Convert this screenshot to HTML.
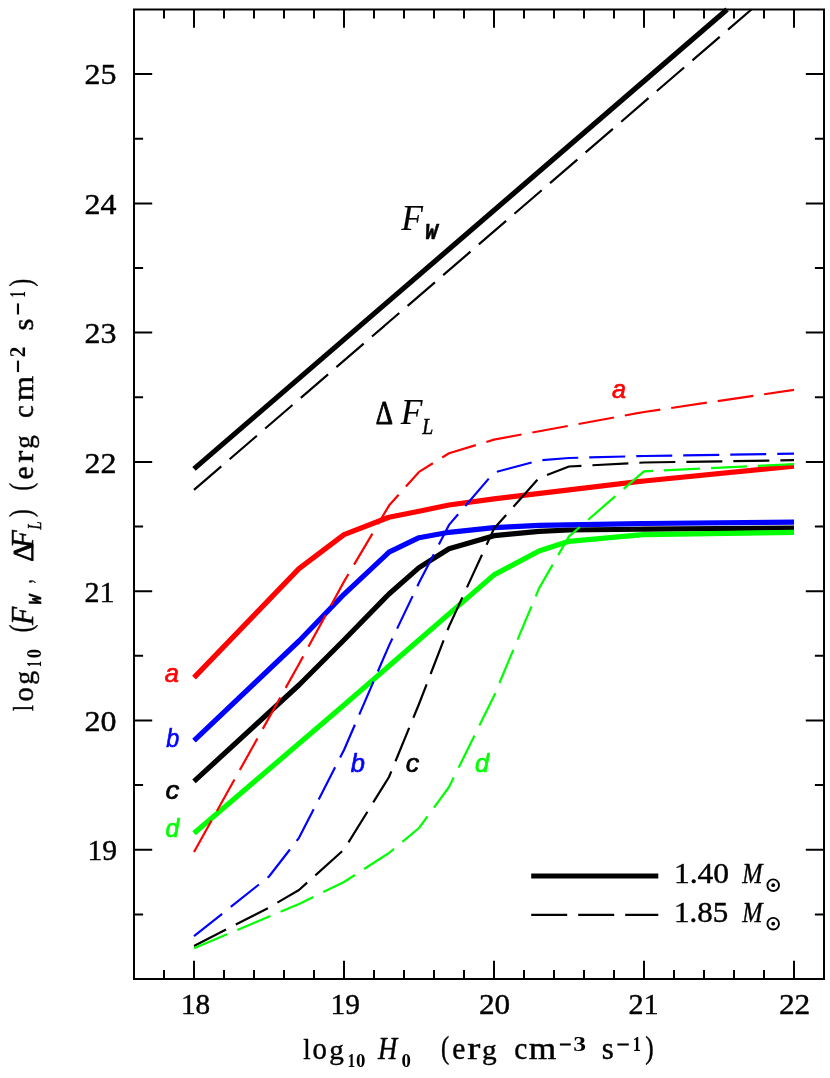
<!DOCTYPE html>
<html><head><meta charset="utf-8"><title>chart</title>
<style>
html,body{margin:0;padding:0;background:#fff;}
body{width:830px;height:1078px;overflow:hidden;font-family:"Liberation Sans",sans-serif;}
svg{display:block}
text{stroke-linejoin:round}
</style></head><body>
<svg width="830" height="1078" viewBox="0 0 830 1078">
<rect width="830" height="1078" fill="#fff"/>
<g style="opacity:0.999">
<defs><clipPath id="cp"><rect x="134" y="9.5" width="690" height="969.5"/></clipPath></defs>

<g fill="none" stroke-linecap="butt">
<path d="M194 468.9 L727.07 9.5" stroke="#000" stroke-width="5.2"/>
<path d="M194 489.9 L751.44 9.5" stroke="#000" stroke-width="2.2" stroke-dasharray="36 11"/>
</g>
<g fill="none" stroke-linejoin="round" stroke-linecap="butt">
<path d="M194 781.4 L299 685.0 L344 640.0 L389 594.0 L419 567.6 L449 548.7 L494 535.7 L539 531.3 L569 530.0 L644 529.2 L794 528.0" stroke="#000000" stroke-width="5.2"/>
<path d="M194 677.6 L299 568.6 L344 534.6 L389 517.2 L419 511.2 L449 505.0 L494 498.8 L644 481.0 L794 466.2" stroke="#ff0000" stroke-width="5.2"/>
<path d="M194 740.6 L299 641 L344 594.3 L389 552.2 L419 537.7 L449 532.3 L494 527.7 L539 525.3 L644 523.5 L794 522.2" stroke="#0000ff" stroke-width="5.2"/>
<path d="M194 833.3 L344 705 L494 574.9 L539 551.0 L569 541.3 L644 534.6 L794 532.4" stroke="#00ff00" stroke-width="5.2"/>
<path d="M194 852.0 L299 664.0 L344 581.6 L389 505.6 L419 471.9 L449 453.3 L494 439.6 L644 412.0 L794 389.8" stroke="#ff0000" stroke-width="2.2" stroke-dasharray="36 11"/>
<path d="M194 936.2 L269 876.5 L299 837.8 L344 750.0 L389 645.6 L419 582.8 L449 524.9 L494 472.5 L539 460.5 L569 458.0 L644 456.0 L794 453.7" stroke="#0000ff" stroke-width="2.2" stroke-dasharray="36 11"/>
<path d="M194 946.0 L269 907.6 L299 890.0 L344 849.6 L389 777.0 L419 704.0 L449 626.5 L494 528.6 L539 478.0 L569 466.5 L644 462.5 L794 460.2" stroke="#000000" stroke-width="2.2" stroke-dasharray="36 11"/>
<path d="M194 948.3 L299 903.9 L344 882.0 L389 853.0 L419 828.0 L449 787.0 L494 696.0 L539 588.4 L569 536.4 L644 471.3 L794 464.1" stroke="#00ff00" stroke-width="2.2" stroke-dasharray="36 11"/>
</g>
<g stroke="#000" stroke-width="2" fill="none">
<rect x="134.0" y="9.5" width="690.0" height="969.5"/>
<path d="M164.0 979.0 v-9.1 M164.0 9.5 v9.1 M194.0 979.0 v-18.2 M194.0 9.5 v18.2 M224.0 979.0 v-9.1 M224.0 9.5 v9.1 M254.0 979.0 v-9.1 M254.0 9.5 v9.1 M284.0 979.0 v-9.1 M284.0 9.5 v9.1 M314.0 979.0 v-9.1 M314.0 9.5 v9.1 M344.0 979.0 v-18.2 M344.0 9.5 v18.2 M374.0 979.0 v-9.1 M374.0 9.5 v9.1 M404.0 979.0 v-9.1 M404.0 9.5 v9.1 M434.0 979.0 v-9.1 M434.0 9.5 v9.1 M464.0 979.0 v-9.1 M464.0 9.5 v9.1 M494.0 979.0 v-18.2 M494.0 9.5 v18.2 M524.0 979.0 v-9.1 M524.0 9.5 v9.1 M554.0 979.0 v-9.1 M554.0 9.5 v9.1 M584.0 979.0 v-9.1 M584.0 9.5 v9.1 M614.0 979.0 v-9.1 M614.0 9.5 v9.1 M644.0 979.0 v-18.2 M644.0 9.5 v18.2 M674.0 979.0 v-9.1 M674.0 9.5 v9.1 M704.0 979.0 v-9.1 M704.0 9.5 v9.1 M734.0 979.0 v-9.1 M734.0 9.5 v9.1 M764.0 979.0 v-9.1 M764.0 9.5 v9.1 M794.0 979.0 v-18.2 M794.0 9.5 v18.2 M824.0 979.0 v-9.1 M824.0 9.5 v9.1 M134.0 914.4 h9.1 M824.0 914.4 h-9.1 M134.0 849.7 h18.2 M824.0 849.7 h-18.2 M134.0 785.1 h9.1 M824.0 785.1 h-9.1 M134.0 720.5 h18.2 M824.0 720.5 h-18.2 M134.0 655.8 h9.1 M824.0 655.8 h-9.1 M134.0 591.2 h18.2 M824.0 591.2 h-18.2 M134.0 526.6 h9.1 M824.0 526.6 h-9.1 M134.0 461.9 h18.2 M824.0 461.9 h-18.2 M134.0 397.3 h9.1 M824.0 397.3 h-9.1 M134.0 332.6 h18.2 M824.0 332.6 h-18.2 M134.0 268.0 h9.1 M824.0 268.0 h-9.1 M134.0 203.4 h18.2 M824.0 203.4 h-18.2 M134.0 138.7 h9.1 M824.0 138.7 h-9.1 M134.0 74.1 h18.2 M824.0 74.1 h-18.2"/>
</g>
<text transform="translate(180.91 1014.19) scale(0.9758 0.9815)" font-family="Liberation Serif" font-style="normal" font-weight="normal" font-size="30" fill="#000" stroke="#000" stroke-width="0.45">18</text>
<text transform="translate(330.51 1014.19) scale(0.9792 0.9859)" font-family="Liberation Serif" font-style="normal" font-weight="normal" font-size="30" fill="#000" stroke="#000" stroke-width="0.45">19</text>
<text transform="translate(478.91 1014.19) scale(1.0392 0.9815)" font-family="Liberation Serif" font-style="normal" font-weight="normal" font-size="30" fill="#000" stroke="#000" stroke-width="0.45">20</text>
<text transform="translate(628.41 1014.49) scale(1.0025 1.0008)" font-family="Liberation Serif" font-style="normal" font-weight="normal" font-size="30" fill="#000" stroke="#000" stroke-width="0.45">21</text>
<text transform="translate(778.91 1014.49) scale(1.0458 1.0008)" font-family="Liberation Serif" font-style="normal" font-weight="normal" font-size="30" fill="#000" stroke="#000" stroke-width="0.45">22</text>
<text transform="translate(87.41 860.02) scale(0.9892 1.0007)" font-family="Liberation Serif" font-style="normal" font-weight="normal" font-size="30" fill="#000" stroke="#000" stroke-width="0.45">19</text>
<text transform="translate(84.41 730.75) scale(1.0658 0.9963)" font-family="Liberation Serif" font-style="normal" font-weight="normal" font-size="30" fill="#000" stroke="#000" stroke-width="0.45">20</text>
<text transform="translate(84.41 601.78) scale(1.0025 1.0159)" font-family="Liberation Serif" font-style="normal" font-weight="normal" font-size="30" fill="#000" stroke="#000" stroke-width="0.45">21</text>
<text transform="translate(84.41 472.51) scale(1.0658 1.0159)" font-family="Liberation Serif" font-style="normal" font-weight="normal" font-size="30" fill="#000" stroke="#000" stroke-width="0.45">22</text>
<text transform="translate(84.41 342.94) scale(1.0658 1.0007)" font-family="Liberation Serif" font-style="normal" font-weight="normal" font-size="30" fill="#000" stroke="#000" stroke-width="0.45">23</text>
<text transform="translate(84.41 213.97) scale(1.0658 1.0159)" font-family="Liberation Serif" font-style="normal" font-weight="normal" font-size="30" fill="#000" stroke="#000" stroke-width="0.45">24</text>
<text transform="translate(84.41 84.40) scale(1.0658 1.0007)" font-family="Liberation Serif" font-style="normal" font-weight="normal" font-size="30" fill="#000" stroke="#000" stroke-width="0.45">25</text>
<text transform="translate(164.78 682.48) scale(0.9426 0.9225)" font-family="Liberation Sans" font-style="italic" font-weight="normal" font-size="27" fill="#ff0000" stroke="#ff0000" stroke-width="0.7">a</text>
<text transform="translate(166.28 746.67) scale(0.8626 0.9398)" font-family="Liberation Sans" font-style="italic" font-weight="normal" font-size="27" fill="#0000ff" stroke="#0000ff" stroke-width="0.7">b</text>
<text transform="translate(165.38 798.76) scale(1.0259 0.9631)" font-family="Liberation Sans" font-style="italic" font-weight="normal" font-size="27" fill="#000000" stroke="#000000" stroke-width="0.7">c</text>
<text transform="translate(165.38 837.06) scale(0.9180 0.9650)" font-family="Liberation Sans" font-style="italic" font-weight="normal" font-size="27" fill="#00ff00" stroke="#00ff00" stroke-width="0.7">d</text>
<text transform="translate(612.07 398.06) scale(0.9293 0.9699)" font-family="Liberation Sans" font-style="italic" font-weight="normal" font-size="27" fill="#ff0000" stroke="#ff0000" stroke-width="0.7">a</text>
<text transform="translate(350.78 772.07) scale(0.9426 0.9398)" font-family="Liberation Sans" font-style="italic" font-weight="normal" font-size="27" fill="#0000ff" stroke="#0000ff" stroke-width="0.7">b</text>
<text transform="translate(405.68 772.07) scale(1.0037 0.9361)" font-family="Liberation Sans" font-style="italic" font-weight="normal" font-size="27" fill="#000000" stroke="#000000" stroke-width="0.7">c</text>
<text transform="translate(475.07 772.07) scale(0.9370 0.9599)" font-family="Liberation Sans" font-style="italic" font-weight="normal" font-size="27" fill="#00ff00" stroke="#00ff00" stroke-width="0.7">d</text>
<text transform="translate(401.25 229.80) scale(1.0144 1.0104)" font-family="Liberation Serif" font-style="italic" font-weight="normal" font-size="35" fill="#000" stroke="#000" stroke-width="0.15">F</text>
<text transform="translate(425.12 239.28) scale(0.9568 0.9760)" font-family="Liberation Mono" font-style="italic" font-weight="bold" font-size="22" fill="#000" stroke="#000" stroke-width="0.5">W</text>
<text transform="translate(375.67 424.00) scale(0.7621 0.9838)" font-family="Liberation Serif" font-style="normal" font-weight="normal" font-size="35" fill="#000" stroke="#000" stroke-width="1.1">Δ</text>
<text transform="translate(400.65 424.00) scale(1.0144 1.0234)" font-family="Liberation Serif" font-style="italic" font-weight="normal" font-size="35" fill="#000" stroke="#000" stroke-width="0.15">F</text>
<text transform="translate(422.35 433.89) scale(0.9023 1.0115)" font-family="Liberation Serif" font-style="italic" font-weight="normal" font-size="22" fill="#000" stroke="#000" stroke-width="0.45">L</text>
<path d="M531.2 876 H658.3" stroke="#000" stroke-width="5.2" stroke-linecap="butt"/>
<path d="M531.2 914.8 H658.3" stroke="#000" stroke-width="2.2" stroke-dasharray="36 11" stroke-linecap="butt"/>
<text transform="translate(673.91 882.88) scale(1.0510 0.9708)" font-family="Liberation Serif" font-style="normal" font-weight="normal" font-size="30" fill="#000" stroke="#000" stroke-width="0.45">1.40</text>
<text transform="translate(742.20 883.19) scale(0.8109 1.0013)" font-family="Liberation Serif" font-style="italic" font-weight="normal" font-size="30" fill="#000" stroke="#000" stroke-width="0.45">M</text>
<circle cx="773.2" cy="885.2" r="5.8" fill="none" stroke="#000" stroke-width="1.9"/><circle cx="773.2" cy="885.2" r="1.9"/>
<text transform="translate(673.91 921.69) scale(1.0338 0.9462)" font-family="Liberation Serif" font-style="normal" font-weight="normal" font-size="30" fill="#000" stroke="#000" stroke-width="0.45">1.85</text>
<text transform="translate(742.20 921.99) scale(0.8109 0.9758)" font-family="Liberation Serif" font-style="italic" font-weight="normal" font-size="30" fill="#000" stroke="#000" stroke-width="0.45">M</text>
<circle cx="773.2" cy="923.7" r="5.8" fill="none" stroke="#000" stroke-width="1.9"/><circle cx="773.2" cy="923.7" r="1.9"/>
<text transform="translate(303.21 1059.40) scale(0.8843 0.9696)" font-family="Liberation Serif" font-style="normal" font-weight="normal" font-size="30" fill="#000" stroke="#000" stroke-width="0.45">l</text>
<text transform="translate(312.61 1059.48) scale(0.9583 1.0239)" font-family="Liberation Serif" font-style="normal" font-weight="normal" font-size="30" fill="#000" stroke="#000" stroke-width="0.45">o</text>
<text transform="translate(329.21 1059.43) scale(0.9717 0.9349)" font-family="Liberation Serif" font-style="normal" font-weight="normal" font-size="30" fill="#000" stroke="#000" stroke-width="0.45">g</text>
<text transform="translate(347.50 1066.80) scale(0.8667 1.0185)" font-family="Liberation Serif" font-style="normal" font-weight="bold" font-size="18" fill="#000">1</text>
<text transform="translate(356.10 1066.91) scale(1.0444 1.0370)" font-family="Liberation Serif" font-style="normal" font-weight="bold" font-size="18" fill="#000">0</text>
<text transform="translate(378.11 1059.40) scale(0.8890 1.0274)" font-family="Liberation Serif" font-style="italic" font-weight="normal" font-size="30" fill="#000" stroke="#000" stroke-width="0.45">H</text>
<text transform="translate(401.50 1067.11) scale(1.0444 1.0535)" font-family="Liberation Serif" font-style="normal" font-weight="bold" font-size="18" fill="#000">0</text>
<text transform="translate(441.11 1057.82) scale(0.8183 1.0281)" font-family="Liberation Serif" font-style="normal" font-weight="normal" font-size="30" fill="#000" stroke="#000" stroke-width="0.45">(</text>
<text transform="translate(452.31 1059.48) scale(0.9816 1.0239)" font-family="Liberation Serif" font-style="normal" font-weight="normal" font-size="30" fill="#000" stroke="#000" stroke-width="0.45">e</text>
<text transform="translate(467.21 1059.40) scale(1.3088 1.0182)" font-family="Liberation Serif" font-style="normal" font-weight="normal" font-size="30" fill="#000" stroke="#000" stroke-width="0.45">r</text>
<text transform="translate(482.11 1059.43) scale(0.9783 0.9349)" font-family="Liberation Serif" font-style="normal" font-weight="normal" font-size="30" fill="#000" stroke="#000" stroke-width="0.45">g</text>
<text transform="translate(514.21 1059.48) scale(0.9816 1.0239)" font-family="Liberation Serif" font-style="normal" font-weight="normal" font-size="30" fill="#000" stroke="#000" stroke-width="0.45">c</text>
<text transform="translate(528.81 1059.40) scale(1.1772 1.0182)" font-family="Liberation Serif" font-style="normal" font-weight="normal" font-size="30" fill="#000" stroke="#000" stroke-width="0.45">m</text>
<path d="M559.9 1044.5 H570.8" stroke="#000" stroke-width="2.1"/>
<text transform="translate(573.20 1051.10) scale(1.2800 1.0193)" font-family="Liberation Serif" font-style="normal" font-weight="bold" font-size="20" fill="#000">3</text>
<text transform="translate(601.81 1059.48) scale(1.0261 1.0239)" font-family="Liberation Serif" font-style="normal" font-weight="normal" font-size="30" fill="#000" stroke="#000" stroke-width="0.45">s</text>
<path d="M617.4 1044.5 H628.8" stroke="#000" stroke-width="2.1"/>
<text transform="translate(632.70 1051.10) scale(0.8200 1.0530)" font-family="Liberation Serif" font-style="normal" font-weight="bold" font-size="20" fill="#000">1</text>
<text transform="translate(645.31 1057.82) scale(0.8383 1.0281)" font-family="Liberation Serif" font-style="normal" font-weight="normal" font-size="30" fill="#000" stroke="#000" stroke-width="0.45">)</text>
<g transform="translate(33.06 712) rotate(-90)">
<text transform="translate(1.01 0.00) scale(0.7044 1.0032)" font-family="Liberation Serif" font-style="normal" font-weight="normal" font-size="30" fill="#000" stroke="#000" stroke-width="0.45">l</text>
<text transform="translate(10.51 0.03) scale(0.9517 1.0135)" font-family="Liberation Serif" font-style="normal" font-weight="normal" font-size="30" fill="#000" stroke="#000" stroke-width="0.45">o</text>
<text transform="translate(27.21 -0.01) scale(0.9250 0.9258)" font-family="Liberation Serif" font-style="normal" font-weight="normal" font-size="30" fill="#000" stroke="#000" stroke-width="0.45">g</text>
<text transform="translate(44.90 8.30) scale(0.6556 1.1195)" font-family="Liberation Serif" font-style="normal" font-weight="bold" font-size="18" fill="#000">1</text>
<text transform="translate(53.80 8.30) scale(1.0333 1.1111)" font-family="Liberation Serif" font-style="normal" font-weight="bold" font-size="18" fill="#000">0</text>
<text transform="translate(79.71 -1.68) scale(0.7583 1.0281)" font-family="Liberation Serif" font-style="normal" font-weight="normal" font-size="30" fill="#000" stroke="#000" stroke-width="0.45">(</text>
<text transform="translate(86.99 0.00) scale(0.9944 1.0426)" font-family="Liberation Serif" font-style="italic" font-weight="normal" font-size="30" fill="#000" stroke="#000" stroke-width="0.45">F</text>
<text transform="translate(107.20 7.50) scale(0.8346 0.9408)" font-family="Liberation Mono" font-style="italic" font-weight="bold" font-size="20" fill="#000" stroke="#000" stroke-width="0.4">W</text>
<text transform="translate(128.41 -1.19) scale(0.5567 0.8398)" font-family="Liberation Serif" font-style="normal" font-weight="normal" font-size="30" fill="#000" stroke="#000" stroke-width="0.45">,</text>
<text transform="translate(150.22 0.00) scale(0.9772 0.9937)" font-family="Liberation Serif" font-style="normal" font-weight="normal" font-size="30" fill="#000" stroke="#000" stroke-width="0.9">Δ</text>
<text transform="translate(163.79 0.00) scale(0.9891 1.0426)" font-family="Liberation Serif" font-style="italic" font-weight="normal" font-size="30" fill="#000" stroke="#000" stroke-width="0.45">F</text>
<text transform="translate(182.59 8.19) scale(0.7284 0.9676)" font-family="Liberation Serif" font-style="italic" font-weight="normal" font-size="20" fill="#000" stroke="#000" stroke-width="0.45">L</text>
<text transform="translate(195.01 -1.68) scale(0.7583 1.0281)" font-family="Liberation Serif" font-style="normal" font-weight="normal" font-size="30" fill="#000" stroke="#000" stroke-width="0.45">)</text>
<text transform="translate(221.41 -1.68) scale(0.7583 1.0281)" font-family="Liberation Serif" font-style="normal" font-weight="normal" font-size="30" fill="#000" stroke="#000" stroke-width="0.45">(</text>
<text transform="translate(232.51 0.03) scale(0.9891 1.0135)" font-family="Liberation Serif" font-style="normal" font-weight="normal" font-size="30" fill="#000" stroke="#000" stroke-width="0.45">e</text>
<text transform="translate(249.21 0.00) scale(1.2087 1.0111)" font-family="Liberation Serif" font-style="normal" font-weight="normal" font-size="30" fill="#000" stroke="#000" stroke-width="0.45">r</text>
<text transform="translate(263.31 -0.01) scale(0.9050 0.9258)" font-family="Liberation Serif" font-style="normal" font-weight="normal" font-size="30" fill="#000" stroke="#000" stroke-width="0.45">g</text>
<text transform="translate(294.01 0.03) scale(0.9591 1.0135)" font-family="Liberation Serif" font-style="normal" font-weight="normal" font-size="30" fill="#000" stroke="#000" stroke-width="0.45">c</text>
<text transform="translate(310.71 0.00) scale(1.0872 1.0111)" font-family="Liberation Serif" font-style="normal" font-weight="normal" font-size="30" fill="#000" stroke="#000" stroke-width="0.45">m</text>
<path d="M339.9 -15.06 H351.4" stroke="#000" stroke-width="2.1"/>
<text transform="translate(354.80 -8.10) scale(1.0700 1.2009)" font-family="Liberation Serif" font-style="normal" font-weight="bold" font-size="20" fill="#000">2</text>
<text transform="translate(381.61 0.03) scale(1.0261 1.0135)" font-family="Liberation Serif" font-style="normal" font-weight="normal" font-size="30" fill="#000" stroke="#000" stroke-width="0.45">s</text>
<path d="M397.5 -15.06 H408.6" stroke="#000" stroke-width="2.1"/>
<text transform="translate(414.50 -8.30) scale(0.6300 1.1894)" font-family="Liberation Serif" font-style="normal" font-weight="bold" font-size="20" fill="#000">1</text>
<text transform="translate(425.41 -1.68) scale(0.7583 1.0281)" font-family="Liberation Serif" font-style="normal" font-weight="normal" font-size="30" fill="#000" stroke="#000" stroke-width="0.45">)</text>
</g>
</g></svg></body></html>
